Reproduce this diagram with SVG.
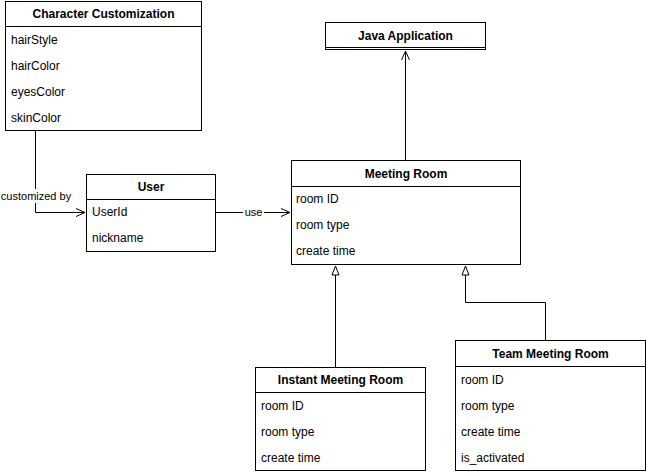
<svg xmlns="http://www.w3.org/2000/svg" width="646" height="474" viewBox="0 0 646 474">
<style>
.box{fill:#fff;stroke:#000;stroke-width:1}
.ln{stroke:#000;stroke-width:1;fill:none}
.h{font-family:"Liberation Sans",Arial,sans-serif;font-size:12px;font-weight:bold;text-anchor:middle;fill:#000}
.t{font-family:"Liberation Sans",Arial,sans-serif;font-size:12px;fill:#000}
.lbl{font-family:"Liberation Sans",Arial,sans-serif;font-size:11px;fill:#000}
</style>
<defs>
<marker id="open" viewBox="0 0 10 10" refX="10" refY="5" markerWidth="10" markerHeight="10" markerUnits="userSpaceOnUse" orient="auto">
<path d="M1,1 L10,5 L1,9" fill="none" stroke="#000" stroke-width="1"/>
</marker>
<marker id="tri" viewBox="0 0 10 10" refX="10" refY="5" markerWidth="10" markerHeight="10" markerUnits="userSpaceOnUse" orient="auto">
<path d="M1,1.5 L10,5 L1,8.5 Z" fill="#fff" stroke="#000" stroke-width="1"/>
</marker>
</defs>
<g id="connectors">
<path class="ln" d="M35.5,130 L35.5,212.5 L85,212.5" marker-end="url(#open)"/>
<rect x="0" y="189" width="72" height="14" fill="#fff"/>
<text class="lbl" x="36" y="200" text-anchor="middle">customized by</text>
<path class="ln" d="M215,212.5 L290,212.5" marker-end="url(#open)"/>
<rect x="243" y="205" width="21" height="13" fill="#fff"/>
<text class="lbl" x="253.5" y="216" text-anchor="middle">use</text>
<path class="ln" d="M405.5,160 L405.5,51" marker-end="url(#open)"/>
<path class="ln" d="M335.5,367 L335.5,266" marker-end="url(#tri)"/>
<path class="ln" d="M545.5,340 L545.5,302.5 L465.5,302.5 L465.5,266" marker-end="url(#tri)"/>
</g>
<g id="character-customization">
<rect class="box" x="5.5" y="1.5" width="196" height="129"/>
<line class="ln" x1="5.5" y1="26.5" x2="201.5" y2="26.5"/>
<text class="h" x="103.5" y="18">Character Customization</text>
<text class="t" x="11" y="44">hairStyle</text>
<text class="t" x="11" y="70">hairColor</text>
<text class="t" x="11" y="96">eyesColor</text>
<text class="t" x="11" y="122">skinColor</text>
</g>
<g id="user">
<rect class="box" x="86.5" y="174.5" width="129" height="77"/>
<line class="ln" x1="86.5" y1="199.5" x2="215.5" y2="199.5"/>
<text class="h" x="151" y="191">User</text>
<text class="t" x="92" y="216">UserId</text>
<text class="t" x="92" y="242">nickname</text>
</g>
<g id="java-application">
<rect class="box" x="325.5" y="22.5" width="160" height="27"/>
<line class="ln" x1="325.5" y1="47.5" x2="485.5" y2="47.5"/>
<text class="h" x="405.5" y="40">Java Application</text>
</g>
<g id="meeting-room">
<rect class="box" x="291.5" y="160.5" width="229" height="104"/>
<line class="ln" x1="291.5" y1="186.5" x2="520.5" y2="186.5"/>
<text class="h" x="406" y="178">Meeting Room</text>
<text class="t" x="296" y="203">room ID</text>
<text class="t" x="296" y="229">room type</text>
<text class="t" x="296" y="255">create time</text>
</g>
<g id="instant-meeting-room">
<rect class="box" x="255.5" y="367.5" width="170" height="103"/>
<line class="ln" x1="255.5" y1="392.5" x2="425.5" y2="392.5"/>
<text class="h" x="340.5" y="384">Instant Meeting Room</text>
<text class="t" x="261" y="410">room ID</text>
<text class="t" x="261" y="436">room type</text>
<text class="t" x="261" y="462">create time</text>
</g>
<g id="team-meeting-room">
<rect class="box" x="455.5" y="340.5" width="190" height="130"/>
<line class="ln" x1="455.5" y1="366.5" x2="645.5" y2="366.5"/>
<text class="h" x="550.5" y="358">Team Meeting Room</text>
<text class="t" x="461" y="384">room ID</text>
<text class="t" x="461" y="410">room type</text>
<text class="t" x="461" y="436">create time</text>
<text class="t" x="461" y="462">is_activated</text>
</g>
</svg>
